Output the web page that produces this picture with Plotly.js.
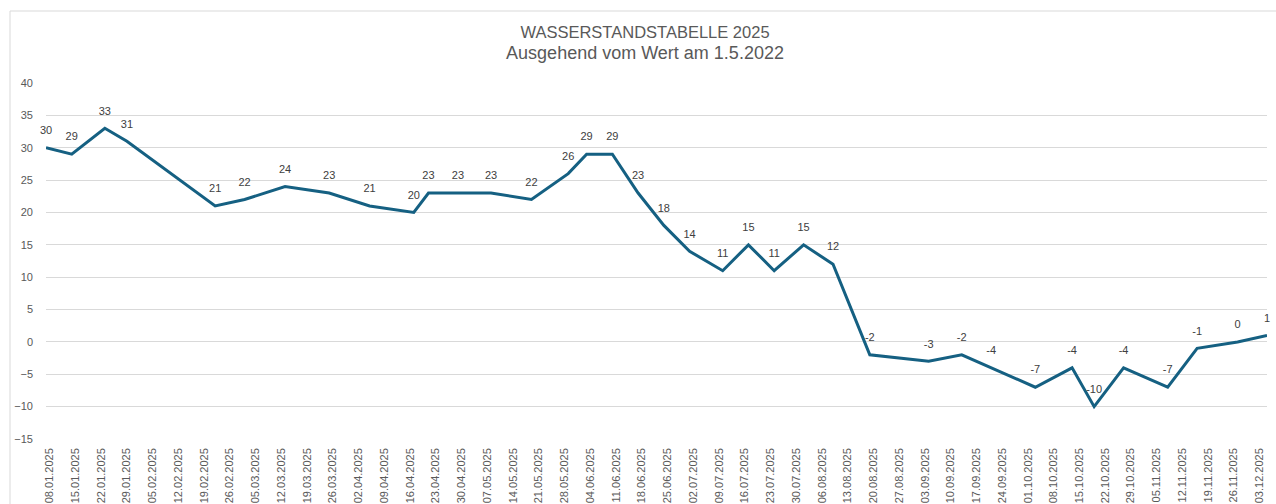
<!DOCTYPE html>
<html>
<head>
<meta charset="utf-8">
<script src="https://cdn.plot.ly/plotly-3.0.1.min.js"></script>
<style>
  html, body { margin: 0; padding: 0; background: #ffffff; }
  #chart { width: 1276px; height: 504px; }
</style>
</head>
<body>
<div id="chart"></div>
<script>
// Messdaten (Datum, Wert)
const dates = [
  '2025-01-07', '2025-01-14', '2025-01-23', '2025-01-29', '2025-02-22',
  '2025-03-02', '2025-03-13', '2025-03-25', '2025-04-05', '2025-04-17',
  '2025-04-21', '2025-04-29', '2025-05-08', '2025-05-19', '2025-05-29',
  '2025-06-03', '2025-06-10', '2025-06-17', '2025-06-24', '2025-07-01',
  '2025-07-10', '2025-07-17', '2025-07-24', '2025-08-01', '2025-08-09',
  '2025-08-19', '2025-09-04', '2025-09-13', '2025-09-21', '2025-10-03',
  '2025-10-13', '2025-10-19', '2025-10-27', '2025-11-08', '2025-11-16',
  '2025-11-27', '2025-12-05'
];
const values = [
  30, 29, 33, 31, 21,
  22, 24, 23, 21, 20,
  23, 23, 23, 22, 26,
  29, 29, 23, 18, 14,
  11, 15, 11, 15, 12,
  -2, -3, -2, -4, -7,
  -4, -10, -4, -7, -1,
  0, 1
];
const titleText = 'WASSERSTANDSTABELLE 2025';
const subtitleText = 'Ausgehend vom Wert am 1.5.2022';
const xRange = ['2025-01-07', '2025-12-05'];
const firstTick = '2025-01-08';
const yRange = [-15, 40];

const trace = {
  type: 'scatter',
  mode: 'lines+markers+text',
  x: dates,
  y: values,
  text: values.map(String),
  textposition: 'top center',
  textfont: { family: 'Liberation Sans, Arial, sans-serif', size: 11, color: '#404040' },
  line: { color: '#156082', width: 3 },
  marker: { size: 16, color: 'rgba(0,0,0,0)' },
  cliponaxis: false,
  hoverinfo: 'x+y'
};

const layout = {
  width: 1276,
  height: 504,
  margin: { l: 46, r: 9, t: 83, b: 65 },
  paper_bgcolor: '#ffffff',
  plot_bgcolor: '#ffffff',
  showlegend: false,
  font: { family: 'Liberation Sans, Arial, sans-serif', color: '#595959' },
  title: {
    text: titleText + '<br><span style="font-size:18px">' + subtitleText + '</span>',
    x: 0.5055,
    xref: 'container',
    xanchor: 'center',
    y: 1 - 38 / 504,
    yref: 'container',
    yanchor: 'top',
    font: { family: 'Liberation Sans, Arial, sans-serif', size: 16.5, color: '#595959' }
  },
  xaxis: {
    type: 'date',
    range: xRange,
    tick0: firstTick,
    dtick: 7 * 24 * 60 * 60 * 1000,
    tickformat: '%d.%m.%Y',
    tickangle: -90,
    showgrid: false,
    zeroline: false,
    showline: false,
    ticks: '',
    ticklabelstandoff: 6,
    tickfont: { family: 'Liberation Sans, Arial, sans-serif', size: 11, color: '#595959' }
  },
  yaxis: {
    range: yRange,
    dtick: 5,
    tick0: 0,
    showgrid: true,
    gridcolor: '#d9d9d9',
    gridwidth: 1,
    zeroline: false,
    showline: false,
    ticks: '',
    ticklabelstandoff: 12,
    tickfont: { family: 'Liberation Sans, Arial, sans-serif', size: 11, color: '#595959' }
  },
  shapes: [{
    type: 'rect',
    xref: 'paper', yref: 'paper',
    x0: (10 - 46) / 1221, x1: 1.05,
    y0: -0.3, y1: (439 - 11) / 356,
    line: { color: '#d9d9d9', width: 1 },
    fillcolor: 'rgba(0,0,0,0)',
    layer: 'below'
  }]
};

Plotly.newPlot('chart', [trace], layout, { displayModeBar: false, staticPlot: true });
</script>
</body>
</html>
